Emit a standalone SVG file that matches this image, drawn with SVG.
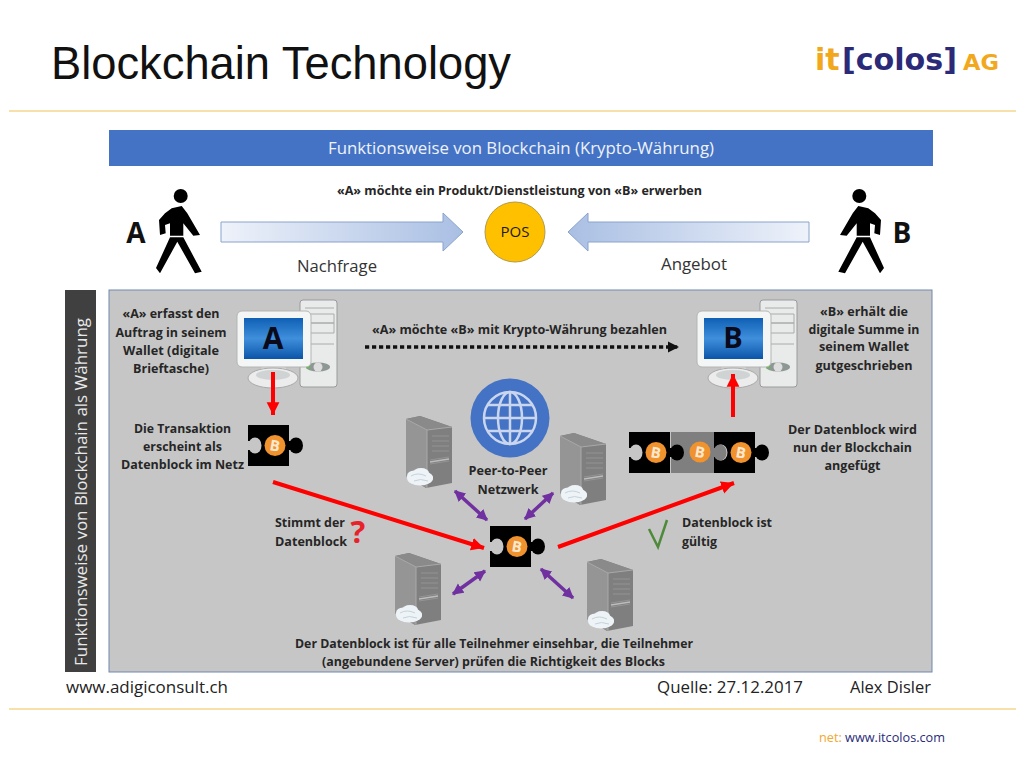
<svg xmlns="http://www.w3.org/2000/svg" width="1024" height="768" viewBox="0 0 1024 768">
<style>
text{font-family:"Open Sans","Liberation Sans",sans-serif;fill:#1a1a1a}
.b{font-size:13px;font-weight:700;text-anchor:middle;fill:#262626}
.l{font-size:13px;font-weight:700;fill:#262626}
.n{font-size:16px;fill:#333;text-anchor:middle}
.f{font-size:16px;fill:#222}
.red{stroke:#fe0000;stroke-width:4;fill:none}
.pur{stroke:#7030a0;stroke-width:3.5;fill:none;marker-start:url(#ps);marker-end:url(#pe)}
.rule{stroke:#f2c257;stroke-width:1.2}
.lg{font-family:"DejaVu Sans",sans-serif;font-weight:700}
</style>
<defs>
<linearGradient id="gr"><stop offset="0" stop-color="#eef2fa"/><stop offset="1" stop-color="#a9bfe3"/></linearGradient>
<linearGradient id="gl"><stop offset="0" stop-color="#a9bfe3"/><stop offset="1" stop-color="#eef2fa"/></linearGradient>
<linearGradient id="scr" x1="0" y1="0" x2="0" y2="1"><stop offset="0" stop-color="#0f5fb5"/><stop offset=".5" stop-color="#3f8fdc"/><stop offset="1" stop-color="#0b55a8"/></linearGradient>
<marker id="rh" viewBox="0 0 10 10" refX="10" refY="5" markerWidth="3.2" markerHeight="3.4" orient="auto"><path d="M0 0L10 5L0 10z" fill="#fe0000"/></marker>
<marker id="pe" viewBox="0 0 10 10" refX="9" refY="5" markerWidth="3.2" markerHeight="3.4" orient="auto"><path d="M0 0L10 5L0 10z" fill="#7030a0"/></marker>
<marker id="ps" viewBox="0 0 10 10" refX="1" refY="5" markerWidth="3.2" markerHeight="3.4" orient="auto"><path d="M10 0L0 5L10 10z" fill="#7030a0"/></marker>
<marker id="kh" viewBox="0 0 10 10" refX="9" refY="5" markerWidth="3.2" markerHeight="3.2" orient="auto"><path d="M0 0L10 5L0 10z" fill="#111"/></marker>
<g id="coin"><circle r="10.5" fill="#f0922e"/><text x="0" y="5.5" text-anchor="middle" style="font-size:15px;font-weight:700;fill:#fde8cf" transform="rotate(10)">B</text></g>
<g id="piece">
<rect width="41" height="41"/><rect x="40" y="16" width="5" height="9"/><ellipse cx="48" cy="20.500" rx="7" ry="8"/>
<rect x="-1" y="16" width="5" height="9" fill="#c6c6c6"/><ellipse cx="7" cy="20.500" rx="6.500" ry="8" fill="#c6c6c6"/>
<use href="#coin" x="27" y="20.500"/>
</g>
<g id="server">
<path d="M0 3L14 0L46 11V67L20 72L0 60Z" fill="#7f7f7f"/>
<path d="M0 3L21 14V72L0 60Z" fill="#959595"/>
<path d="M0 3L14 0L46 11L21 14Z" fill="#8a8a8a"/>
<path d="M0 3L21 14L46 11M21 14V72" fill="none" stroke="#a9a9a9" stroke-width="1"/>
<path d="M24 44L43 41M24 48L43 45M26 20H43M26 25H43M26 30H43M26 35H43" stroke="#949494" fill="none"/>
<path d="M24 46L43 43" stroke="#bdbdbd" stroke-width="1.500"/>
<g fill="#edf3f6"><ellipse cx="14" cy="62" rx="13" ry="7.500"/><ellipse cx="8" cy="60" rx="7" ry="5.500"/><ellipse cx="15" cy="57" rx="8" ry="5"/><ellipse cx="21" cy="62" rx="6" ry="5"/></g>
<path d="M5 60Q12 56 20 60M8 65Q14 62 22 65" stroke="#c6d2da" fill="none"/>
</g>
<g id="pc">
<rect x="63" y="0" width="37" height="87" rx="3" fill="#e9ebeb" stroke="#9a9a9a"/>
<path d="M68 8H97M67 14H97V23H67M67 23H97V33H67M67 44H97" fill="none" stroke="#aaa"/>
<ellipse cx="81" cy="67" rx="12" ry="4.500" fill="#8d9793"/><circle cx="81" cy="67" r="4.500" fill="#ddd"/><circle cx="71" cy="67" r="2" fill="#66bb55"/>
<path d="M25 66H48L52 78H21Z" fill="#dfe2e2"/>
<ellipse cx="36" cy="78" rx="25" ry="10" fill="#ececec" stroke="#aaa"/>
<ellipse cx="36" cy="75" rx="17" ry="5" fill="#cfd3d3"/>
<rect x="0" y="11" width="74" height="56" rx="5" fill="#f4f6f6" stroke="#b4b4b4"/>
<rect x="7" y="18" width="59" height="41" fill="url(#scr)"/>
</g>
<g id="walker" fill="#000">
<circle cx="25.700" cy="7" r="7"/>
<path d="M16.700 19.300L26.700 17L32.300 24.300L45 46L38.300 46.700L28.300 34.300V46.700H15V34.300L10 36L10.700 44.300L5 46L4 31L10 24.300Z"/>
<path d="M15 48.300H28.300L46.700 82.700L40 84.300L22.300 52.700L5 84.300L1 79Z"/>
</g>
</defs>
<rect width="1024" height="768" fill="#fff"/>

<g id="title"><text x="51" y="79" style="font-family:'Liberation Sans',Arial,sans-serif;font-size:46px;fill:#111" textLength="460" lengthAdjust="spacingAndGlyphs">Blockchain Technology</text></g>
<g id="logo">
<text class="lg" x="815" y="70" style="font-size:30px;fill:#f2a81d">it</text>
<text class="lg" x="842" y="70" style="font-size:30px;fill:#2a2a78" textLength="115" lengthAdjust="spacingAndGlyphs">[colos]</text>
<text class="lg" x="963" y="70" style="font-size:22px;fill:#f2a81d" textLength="36" lengthAdjust="spacingAndGlyphs">AG</text>
</g>
<line class="rule" x1="9" y1="111" x2="1016" y2="111"/>
<line class="rule" x1="9" y1="709" x2="1016" y2="709"/>

<g id="header"><rect x="109" y="130" width="824" height="36" fill="#4472c4"/>
<text x="521" y="154" text-anchor="middle" style="font-size:17px;fill:#eef3fb" textLength="386" lengthAdjust="spacingAndGlyphs">Funktionsweise von Blockchain (Krypto-Währung)</text></g>
<text class="b" x="519.500" y="195" textLength="365" lengthAdjust="spacingAndGlyphs">«A» möchte ein Produkt/Dienstleistung von «B» erwerben</text>

<g id="personA"><text x="136" y="243" text-anchor="middle" style="font-size:28px;font-weight:700;fill:#111">A</text>
<use href="#walker" x="155" y="189"/></g>
<g id="personB"><text x="902" y="243" text-anchor="middle" style="font-size:28px;font-weight:700;fill:#111">B</text>
<use href="#walker" transform="translate(885 189) scale(-1 1)"/></g>
<g id="demand"><path d="M221 222H443V213L463 232L443 251V242H221Z" fill="url(#gr)" stroke="#8aa3cc"/>
<text class="n" x="337" y="272" textLength="80" lengthAdjust="spacingAndGlyphs">Nachfrage</text></g>
<g id="supply"><path d="M809 222H588V213L568 232L588 251V242H809Z" fill="url(#gl)" stroke="#8aa3cc"/>
<text class="n" x="694" y="270" textLength="66" lengthAdjust="spacingAndGlyphs">Angebot</text></g>
<g id="pos"><circle cx="515" cy="232" r="30" fill="#ffc000" stroke="#b09a50"/>
<text x="515" y="237" text-anchor="middle" style="font-size:15px">POS</text></g>

<g id="sidebar"><rect x="65" y="290" width="31" height="382" fill="#404040"/>
<text transform="translate(87 666) rotate(-90)" style="font-size:17px;fill:#e8e8e8" textLength="348" lengthAdjust="spacingAndGlyphs">Funktionsweise von Blockchain als Währung</text></g>
<rect id="panel" x="109" y="290" width="823" height="382" fill="#c6c6c6" stroke="#7187ad" stroke-width="1"/>

<g id="textA"><text class="b" x="171" y="318" textLength="97" lengthAdjust="spacingAndGlyphs">«A» erfasst den</text><text class="b" x="171" y="337" textLength="111" lengthAdjust="spacingAndGlyphs">Auftrag in seinem</text><text class="b" x="171" y="355" textLength="96" lengthAdjust="spacingAndGlyphs">Wallet (digitale</text><text class="b" x="171" y="373" textLength="76" lengthAdjust="spacingAndGlyphs">Brieftasche)</text></g>
<g id="pcA"><use href="#pc" x="237" y="300"/><text x="273" y="349" text-anchor="middle" style="font-size:30px;font-weight:700;fill:#0a0a1a">A</text></g>
<g id="pcB"><use href="#pc" x="697" y="300"/><text x="733" y="348" text-anchor="middle" style="font-size:29px;font-weight:700;fill:#0a0a1a">B</text></g>
<g id="textB"><text class="b" x="864" y="316" textLength="88" lengthAdjust="spacingAndGlyphs">«B» erhält die</text><text class="b" x="864" y="334" textLength="111" lengthAdjust="spacingAndGlyphs">digitale Summe in</text><text class="b" x="864" y="351" textLength="90" lengthAdjust="spacingAndGlyphs">seinem Wallet</text><text class="b" x="864" y="370" textLength="97" lengthAdjust="spacingAndGlyphs">gutgeschrieben</text></g>
<text class="b" x="519.500" y="334" textLength="295" lengthAdjust="spacingAndGlyphs">«A» möchte «B» mit Krypto-Währung bezahlen</text>

<g id="block1"><use href="#piece" x="248" y="425"/></g>
<g id="textTx"><text class="b" x="182.500" y="433" textLength="97" lengthAdjust="spacingAndGlyphs">Die Transaktion</text><text class="b" x="182.500" y="451" textLength="79" lengthAdjust="spacingAndGlyphs">erscheint als</text><text class="b" x="182.500" y="469" textLength="123" lengthAdjust="spacingAndGlyphs">Datenblock im Netz</text></g>
<g id="chain">
<use href="#piece" x="714" y="432"/>
<rect x="671" y="432" width="43" height="41" fill="#7f7f7f"/>
<rect x="713" y="448" width="5" height="9" fill="#7f7f7f"/><ellipse cx="720" cy="452.500" rx="6.500" ry="8" fill="#7f7f7f"/>
<use href="#coin" x="700" y="452"/>
<use href="#piece" x="629" y="432"/>
</g>
<g id="textChain"><text class="b" x="852.500" y="434" textLength="129" lengthAdjust="spacingAndGlyphs">Der Datenblock wird</text><text class="b" x="852.500" y="452" textLength="119" lengthAdjust="spacingAndGlyphs">nun der Blockchain</text><text class="b" x="852.500" y="470" textLength="56" lengthAdjust="spacingAndGlyphs">angefügt</text></g>

<g id="globe"><circle cx="510" cy="418" r="39.500" fill="#4472c4"/>
<g fill="none" stroke="#c9d6ee" stroke-width="2.500"><circle cx="510" cy="418" r="26"/><ellipse cx="510" cy="418" rx="12" ry="26"/><path d="M510 392V444M484 418H536M488 405H532M488 431H532"/></g></g>
<g id="textP2P"><text class="b" x="508" y="475" textLength="79" lengthAdjust="spacingAndGlyphs">Peer-to-Peer</text><text class="b" x="508" y="494" textLength="61" lengthAdjust="spacingAndGlyphs">Netzwerk</text></g>
<g id="server1"><use href="#server" x="406" y="416"/></g>
<g id="server2"><use href="#server" x="560" y="433"/></g>
<g id="server3"><use href="#server" x="395" y="553"/></g>
<g id="server4"><use href="#server" x="587" y="559"/></g>
<g id="block2"><use href="#piece" x="490" y="526"/></g>
<g id="textCheck"><text class="l" x="275" y="527" textLength="70" lengthAdjust="spacingAndGlyphs">Stimmt der</text><text class="l" x="275" y="546" textLength="72" lengthAdjust="spacingAndGlyphs">Datenblock</text>
<text x="358" y="543" text-anchor="middle" style="font-size:31px;font-weight:700;fill:#e8222a">?</text></g>
<g id="textValid"><text class="l" x="682" y="527" textLength="90" lengthAdjust="spacingAndGlyphs">Datenblock ist</text><text class="l" x="682" y="546" textLength="35" lengthAdjust="spacingAndGlyphs">gültig</text>
<path d="M649 529L658 547L667 520" fill="none" stroke="#4e8a3a" stroke-width="2.500"/></g>
<g id="textAll"><text class="b" x="494" y="648" textLength="398" lengthAdjust="spacingAndGlyphs">Der Datenblock ist für alle Teilnehmer einsehbar, die Teilnehmer</text><text class="b" x="493.500" y="666" textLength="343" lengthAdjust="spacingAndGlyphs">(angebundene Server) prüfen die Richtigkeit des Blocks</text></g>

<g id="connectors">
<line x1="365" y1="347" x2="678" y2="347" stroke="#111" stroke-width="3.500" stroke-dasharray="4.200 2.800" marker-end="url(#kh)"/>
<line class="red" x1="273" y1="372" x2="273" y2="415" marker-end="url(#rh)"/>
<line class="red" x1="733" y1="417" x2="733" y2="374" marker-end="url(#rh)"/>
<line class="red" x1="273" y1="482" x2="484" y2="548" marker-end="url(#rh)"/>
<line class="red" x1="558" y1="547" x2="734" y2="483" marker-end="url(#rh)"/>
<line class="pur" x1="455" y1="491" x2="487" y2="520"/>
<line class="pur" x1="553" y1="493" x2="525" y2="519"/>
<line class="pur" x1="485" y1="571" x2="453" y2="594"/>
<line class="pur" x1="541" y1="569" x2="573" y2="598"/>
</g>

<g id="footer">
<text class="f" x="66" y="693" textLength="162" lengthAdjust="spacingAndGlyphs">www.adigiconsult.ch</text>
<text class="f" x="657" y="693" textLength="146" lengthAdjust="spacingAndGlyphs">Quelle: 27.12.2017</text>
<text class="f" x="850" y="693" textLength="81" lengthAdjust="spacingAndGlyphs">Alex Disler</text>
<text x="819" y="742" style="font-size:12.700px;fill:#f0a830">net: <tspan fill="#2a2a78">www.itcolos.com</tspan></text>
</g>
</svg>
